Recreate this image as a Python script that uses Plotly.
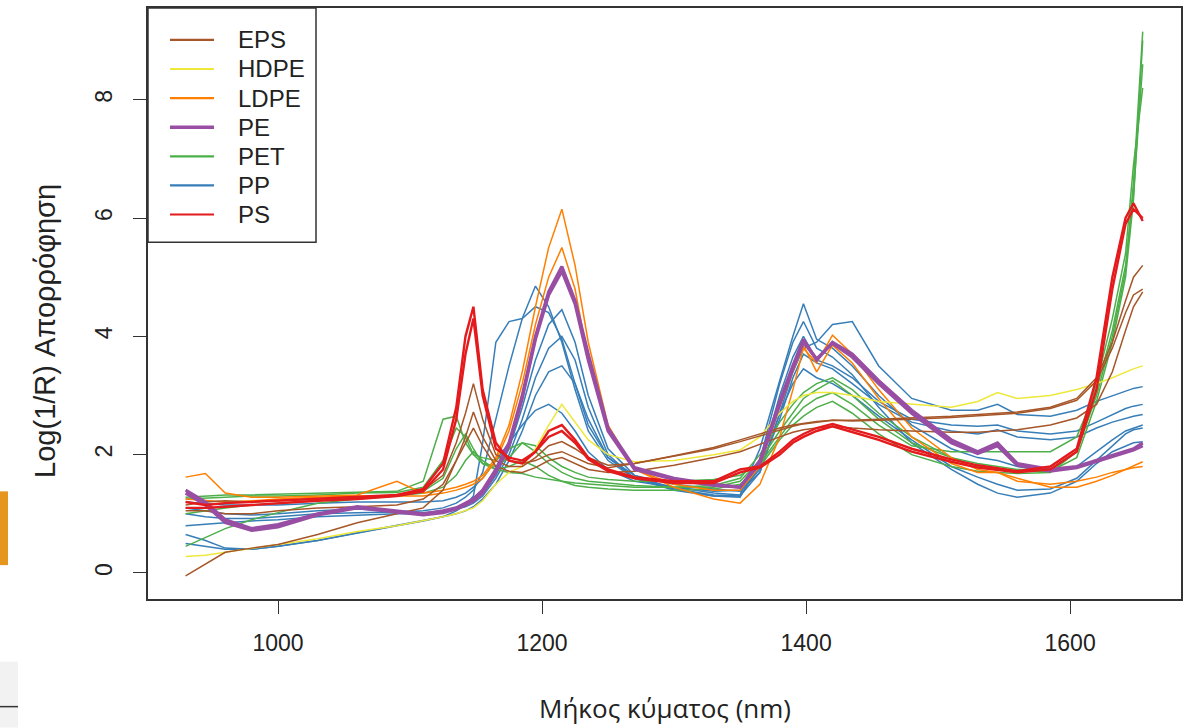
import plotly.graph_objects as go

# Wavelength grid (nm)
wavelength = [930, 945, 960, 980, 1000, 1030, 1060, 1090, 1110, 1125,
              1135, 1142, 1148, 1155, 1165, 1175, 1185, 1195, 1205, 1215,
              1225, 1235, 1250, 1270, 1300, 1330, 1350, 1365, 1380, 1390,
              1398, 1408, 1420, 1435, 1455, 1480, 1510, 1530, 1545, 1560,
              1585, 1605, 1620, 1632, 1642, 1648, 1655]

# Log(1/R) spectra per polymer class
EPS = [
    [1.15, 1.20, 1.22, 1.20, 1.22, 1.25, 1.28, 1.30, 1.40, 1.65,
     2.20, 2.70, 3.20, 2.60, 2.00, 1.90, 1.85, 1.90, 2.00, 2.05,
     1.95, 1.85, 1.78, 1.85, 1.98, 2.12, 2.25, 2.35, 2.45, 2.50,
     2.53, 2.56, 2.58, 2.58, 2.60, 2.62, 2.65, 2.68, 2.70, 2.72,
     2.80, 2.95, 3.30, 3.90, 4.60, 5.00, 5.20],
    [-0.05, 0.15, 0.35, 0.42, 0.48, 0.65, 0.85, 1.00, 1.10, 1.40,
     1.90, 2.30, 2.72, 2.30, 1.90, 1.80, 1.80, 1.95, 2.15, 2.22,
     2.10, 1.95, 1.82, 1.85, 1.97, 2.10, 2.22, 2.32, 2.42, 2.48,
     2.52, 2.55, 2.58, 2.57, 2.58, 2.60, 2.63, 2.66, 2.68, 2.70,
     2.78, 2.92, 3.25, 3.80, 4.40, 4.70, 4.80],
    [1.05, 1.05, 1.00, 1.00, 1.05, 1.10, 1.12, 1.15, 1.25, 1.50,
     1.90, 2.20, 2.45, 2.15, 1.80, 1.72, 1.70, 1.78, 1.90, 1.95,
     1.85, 1.75, 1.70, 1.72, 1.82, 1.95, 2.05, 2.18, 2.30, 2.38,
     2.42, 2.45, 2.48, 2.45, 2.42, 2.40, 2.38, 2.38, 2.40, 2.42,
     2.50, 2.62, 2.85, 3.40, 4.10, 4.50, 4.75],
]
HDPE = [
    [0.28, 0.30, 0.35, 0.42, 0.48, 0.58, 0.70, 0.80, 0.88, 0.95,
     1.00, 1.05, 1.10, 1.22, 1.50, 1.70, 1.80, 2.10, 2.50, 2.85,
     2.55, 2.25, 2.00, 1.88, 1.90, 2.00, 2.08, 2.30, 2.70, 2.90,
     3.00, 3.05, 3.05, 3.00, 2.90, 2.85, 2.80, 2.90, 3.05, 2.95,
     3.00, 3.10, 3.20, 3.30, 3.40, 3.45, 3.50],
]
LDPE = [
    [1.62, 1.68, 1.35, 1.28, 1.28, 1.30, 1.32, 1.55, 1.35, 1.40,
     1.45, 1.50, 1.55, 1.65, 1.95, 2.50, 3.40, 4.50, 5.50, 6.15,
     5.20, 3.90, 2.50, 1.75, 1.45, 1.25, 1.18, 1.50, 2.30, 3.10,
     3.80, 3.55, 4.02, 3.70, 3.10, 2.45, 1.95, 1.75, 1.70, 1.60,
     1.45, 1.45, 1.55, 1.65, 1.75, 1.80, 1.88],
    [1.25, 1.22, 1.20, 1.22, 1.25, 1.28, 1.30, 1.30, 1.30, 1.35,
     1.40, 1.45, 1.50, 1.60, 1.90, 2.40, 3.20, 4.20, 5.00, 5.50,
     4.80, 3.60, 2.40, 1.75, 1.50, 1.40, 1.40, 1.80, 2.80, 3.40,
     3.85, 3.40, 3.85, 3.55, 2.95, 2.30, 1.85, 1.70, 1.70, 1.55,
     1.50, 1.55, 1.62, 1.70, 1.75, 1.78, 1.80],
]
PE = [
    [1.40, 1.20, 0.90, 0.75, 0.82, 1.00, 1.12, 1.05, 1.00, 1.05,
     1.10, 1.18, 1.25, 1.40, 1.75, 2.20, 3.00, 4.00, 4.75, 5.18,
     4.60, 3.70, 2.45, 1.78, 1.60, 1.50, 1.45, 1.90, 2.90, 3.50,
     3.95, 3.60, 3.90, 3.70, 3.25, 2.75, 2.25, 2.05, 2.20, 1.85,
     1.75, 1.80, 1.90, 1.98, 2.05, 2.10, 2.20],
    [1.35, 1.15, 0.85, 0.72, 0.78, 0.98, 1.10, 1.02, 0.98, 1.02,
     1.08, 1.15, 1.22, 1.35, 1.70, 2.15, 2.95, 3.95, 4.70, 5.10,
     4.55, 3.60, 2.40, 1.75, 1.58, 1.48, 1.45, 1.85, 2.85, 3.45,
     3.90, 3.62, 3.88, 3.65, 3.20, 2.70, 2.20, 2.02, 2.15, 1.82,
     1.72, 1.78, 1.88, 1.96, 2.03, 2.08, 2.15],
]
PET = [
    [1.28, 1.30, 1.32, 1.32, 1.33, 1.35, 1.36, 1.38, 1.55, 2.60,
     2.65, 2.20, 2.00, 1.95, 1.90, 2.10, 2.20, 2.05, 1.85, 1.70,
     1.60, 1.55, 1.52, 1.48, 1.45, 1.45, 1.55, 1.90, 2.40, 2.70,
     2.95, 3.10, 3.25, 3.00, 2.60, 2.20, 1.95, 1.85, 1.80, 1.75,
     1.75, 2.05, 3.00, 4.00, 5.10, 6.60, 9.15],
    [0.45, 0.60, 0.75, 0.90, 1.02, 1.18, 1.25, 1.30, 1.38, 1.60,
     2.10, 2.35, 2.10, 1.85, 1.80, 1.95, 2.20, 2.15, 1.95, 1.80,
     1.70, 1.62, 1.58, 1.55, 1.55, 1.58, 1.65, 1.85, 2.30, 2.60,
     2.80, 2.95, 3.05, 2.85, 2.50, 2.15, 2.05, 2.05, 2.05, 2.05,
     2.05, 2.30, 3.10, 4.10, 5.20, 6.40, 8.60],
    [1.00, 1.05, 1.10, 1.15, 1.18, 1.22, 1.28, 1.30, 1.35, 1.45,
     1.65, 1.90, 2.05, 1.90, 1.75, 1.80, 1.90, 1.80, 1.65, 1.55,
     1.48, 1.45, 1.42, 1.40, 1.40, 1.42, 1.50, 1.80, 2.25, 2.50,
     2.65, 2.80, 2.90, 2.70, 2.35, 2.00, 1.80, 1.72, 1.70, 1.68,
     1.70, 2.05, 3.20, 4.30, 5.40, 6.90, 8.20],
    [1.25, 1.27, 1.28, 1.30, 1.30, 1.32, 1.35, 1.36, 1.45, 1.90,
     2.45, 2.30, 2.00, 1.85, 1.75, 1.70, 1.68, 1.62, 1.58, 1.55,
     1.52, 1.50, 1.48, 1.45, 1.45, 1.48, 1.60, 2.00, 2.55, 2.85,
     3.05, 3.20, 3.30, 3.10, 2.70, 2.30, 1.95, 1.80, 1.75, 1.72,
     1.72, 1.95, 2.90, 3.90, 5.00, 6.30, 9.00],
]
PP = [
    [1.00, 0.95, 0.92, 0.92, 0.95, 1.00, 1.02, 1.03, 1.05, 1.10,
     1.18, 1.28, 1.40, 1.70, 2.60, 3.50, 4.30, 4.85, 4.50, 3.90,
     3.10, 2.40, 1.90, 1.60, 1.45, 1.35, 1.32, 2.10, 3.25, 4.00,
     4.55, 3.95, 3.80, 3.50, 3.00, 2.50, 2.10, 1.95, 1.90, 1.80,
     1.72, 1.80, 2.05, 2.25, 2.40, 2.45, 2.50],
    [0.65, 0.55, 0.42, 0.40, 0.45, 0.55, 0.68, 0.80, 0.88, 0.95,
     1.05, 1.15, 1.30, 2.20, 3.90, 4.25, 4.30, 4.50, 4.40, 3.95,
     3.20, 2.50, 1.95, 1.65, 1.50, 1.42, 1.38, 1.70, 2.70, 3.40,
     3.80, 3.90, 4.20, 4.25, 3.50, 2.95, 2.75, 2.75, 2.85, 2.68,
     2.65, 2.75, 2.90, 3.00, 3.08, 3.12, 3.15],
    [1.10, 1.05, 1.00, 0.98, 1.00, 1.05, 1.08, 1.05, 1.02, 1.05,
     1.10, 1.15, 1.22, 1.35, 1.65, 2.10, 2.80, 3.60, 4.20, 4.45,
     3.90, 3.00, 2.10, 1.65, 1.42, 1.30, 1.28, 1.90, 3.20, 3.90,
     4.25, 3.80, 3.65, 3.35, 2.80, 2.20, 1.75, 1.50, 1.35, 1.28,
     1.35, 1.55, 1.85, 2.05, 2.15, 2.20, 2.22],
    [0.80, 0.82, 0.85, 0.88, 0.90, 0.95, 0.98, 1.00, 1.00, 1.02,
     1.08, 1.12, 1.18, 1.30, 1.60, 2.00, 2.60, 3.30, 3.80, 4.00,
     3.60, 2.80, 2.00, 1.60, 1.40, 1.30, 1.30, 1.80, 3.00, 3.65,
     4.00, 3.60, 3.50, 3.30, 2.90, 2.60, 2.50, 2.48, 2.50, 2.40,
     2.35, 2.40, 2.55, 2.68, 2.78, 2.82, 2.85],
    [0.50, 0.45, 0.40, 0.40, 0.45, 0.55, 0.68, 0.80, 0.88, 0.95,
     1.00, 1.05, 1.12, 1.25, 1.50, 1.90, 2.40, 3.00, 3.40, 3.50,
     3.20, 2.60, 1.95, 1.60, 1.42, 1.32, 1.30, 1.70, 2.70, 3.20,
     3.45, 3.30, 3.20, 3.00, 2.65, 2.25, 1.80, 1.62, 1.50, 1.40,
     1.42, 1.60, 1.90, 2.15, 2.35, 2.42, 2.45],
    [1.20, 1.18, 1.15, 1.15, 1.15, 1.18, 1.20, 1.20, 1.20, 1.22,
     1.28, 1.35, 1.45, 1.60, 1.90, 2.20, 2.50, 2.75, 2.85, 2.70,
     2.40, 2.05, 1.75, 1.55, 1.45, 1.38, 1.40, 1.75, 2.60, 3.30,
     3.70, 3.55, 3.45, 3.20, 2.85, 2.55, 2.40, 2.35, 2.42, 2.30,
     2.25, 2.30, 2.45, 2.55, 2.62, 2.65, 2.68],
]
PS = [
    [1.20, 1.15, 1.18, 1.20, 1.22, 1.25, 1.28, 1.32, 1.42, 1.85,
     2.80, 4.00, 4.50, 3.10, 2.20, 1.90, 1.85, 2.05, 2.40, 2.50,
     2.25, 1.95, 1.75, 1.62, 1.55, 1.55, 1.75, 1.80, 2.05, 2.25,
     2.35, 2.45, 2.52, 2.42, 2.30, 2.10, 1.92, 1.82, 1.77, 1.72,
     1.80, 2.10, 3.30, 5.00, 6.00, 6.25, 5.95],
    [1.10, 1.10, 1.12, 1.15, 1.18, 1.22, 1.25, 1.30, 1.38, 1.75,
     2.60, 3.70, 4.30, 3.00, 2.10, 1.95, 1.90, 2.05, 2.30, 2.40,
     2.20, 1.92, 1.72, 1.60, 1.52, 1.52, 1.70, 1.78, 2.00, 2.20,
     2.30, 2.40, 2.48, 2.38, 2.25, 2.05, 1.88, 1.78, 1.74, 1.70,
     1.75, 2.05, 3.10, 4.80, 5.90, 6.15, 6.00],
]

class_names = ["EPS", "HDPE", "LDPE", "PE", "PET", "PP", "PS"]
class_data = {"EPS": EPS, "HDPE": HDPE, "LDPE": LDPE, "PE": PE,
              "PET": PET, "PP": PP, "PS": PS}
class_colors = {"EPS": "#A65628", "HDPE": "#EEE83A", "LDPE": "#FF7F00",
                "PE": "#984EA3", "PET": "#4DAF4A", "PP": "#377EB8",
                "PS": "#E41A1C"}
class_widths = {"EPS": 1.5, "HDPE": 1.5, "LDPE": 1.5, "PE": 3.2,
                "PET": 1.5, "PP": 1.5, "PS": 2.4}
draw_order = ["PP", "PET", "LDPE", "HDPE", "EPS", "PE", "PS"]

x_ticks = [1000, 1200, 1400, 1600]
y_ticks = [0, 2, 4, 6, 8]

for name, spectra in class_data.items():
    for s in spectra:
        if len(s) != len(wavelength):
            raise ValueError(f"{name}: {len(s)} values")

# ---- figure geometry (pixels) ----
W, H = 1194, 728
PL, PR, PT, PB = 148, 1181, 6, 599          # plot area edges
pw, ph = PR - PL, PB - PT


def px_x(p):
    return (p - PL) / pw


def px_y(p):
    return (PB - p) / ph


fig = go.Figure()
for name in draw_order:
    for i, spectrum in enumerate(class_data[name]):
        fig.add_trace(go.Scatter(
            x=wavelength, y=spectrum, mode="lines", name=name,
            legendgroup=name, showlegend=False,
            line=dict(color=class_colors[name], width=class_widths[name]),
        ))

tick_font = dict(family="Liberation Sans, Arial, sans-serif", size=23,
                 color="#222222")
axis_common = dict(showline=True, linecolor="#333333", linewidth=1.5,
                   mirror=True, ticks="outside", ticklen=13, tickwidth=1.3,
                   tickcolor="#333333", showgrid=False, zeroline=False,
                   tickfont=tick_font)

# ---- legend box (drawn like R's legend) ----
shapes = [dict(type="rect", xref="paper", yref="paper",
               x0=0, x1=px_x(316), y0=px_y(241), y1=1,
               line=dict(color="#333333", width=1.5), layer="above")]
annotations = []
for i, name in enumerate(class_names):
    yc = px_y(38 + i * 29.2)
    shapes.append(dict(type="line", xref="paper", yref="paper",
                       x0=px_x(170), x1=px_x(214), y0=yc, y1=yc,
                       line=dict(color=class_colors[name],
                                 width=3.5 if name == "PE" else 2.2)))
    annotations.append(dict(text=name, xref="paper", yref="paper",
                            x=px_x(236), y=yc, xanchor="left",
                            yanchor="middle", showarrow=False,
                            font=dict(family="Liberation Sans, Arial, sans-serif",
                                      size=24, color="#222222")))

annotations += [
    dict(text="Μήκος κύματος (nm)", xref="paper", yref="paper",
         x=0.5, y=px_y(708), xanchor="center", yanchor="middle",
         showarrow=False,
         font=dict(family="Open Sans, sans-serif", size=26, color="#222222")),
    dict(text="Log(1/R) Απορρόφηση", xref="paper", yref="paper",
         x=px_x(45), y=px_y(330), xanchor="center", yanchor="middle",
         textangle=-90, showarrow=False,
         font=dict(family="Liberation Sans, Arial, sans-serif",
                   size=29, color="#222222")),
]

# page decorations visible at the left edge of the reference
shapes += [
    dict(type="rect", xref="paper", yref="paper",
         x0=px_x(0), x1=px_x(8), y0=px_y(565), y1=px_y(491),
         fillcolor="#E5961E", line=dict(width=0)),
    dict(type="rect", xref="paper", yref="paper",
         x0=px_x(0), x1=px_x(18), y0=px_y(728), y1=px_y(662),
         fillcolor="#F2F2F2", line=dict(width=0)),
    dict(type="line", xref="paper", yref="paper",
         x0=px_x(0), x1=px_x(18), y0=px_y(707), y1=px_y(707),
         line=dict(color="#333333", width=1.5)),
]

fig.update_layout(
    width=W, height=H,
    margin=dict(l=PL, r=W - PR, t=PT, b=H - PB),
    paper_bgcolor="white", plot_bgcolor="white",
    showlegend=False,
    xaxis=dict(range=[901.5, 1684], tickvals=x_ticks,
               ticklabelstandoff=10, **axis_common),
    yaxis=dict(range=[-0.44, 9.55], tickvals=y_ticks, tickangle=-90,
               ticklabelstandoff=12, **axis_common),
    annotations=annotations,
    shapes=shapes,
)

fig.write_html("out.html", config={"displayModeBar": False},
               post_script="document.body.style.margin='0px';")
